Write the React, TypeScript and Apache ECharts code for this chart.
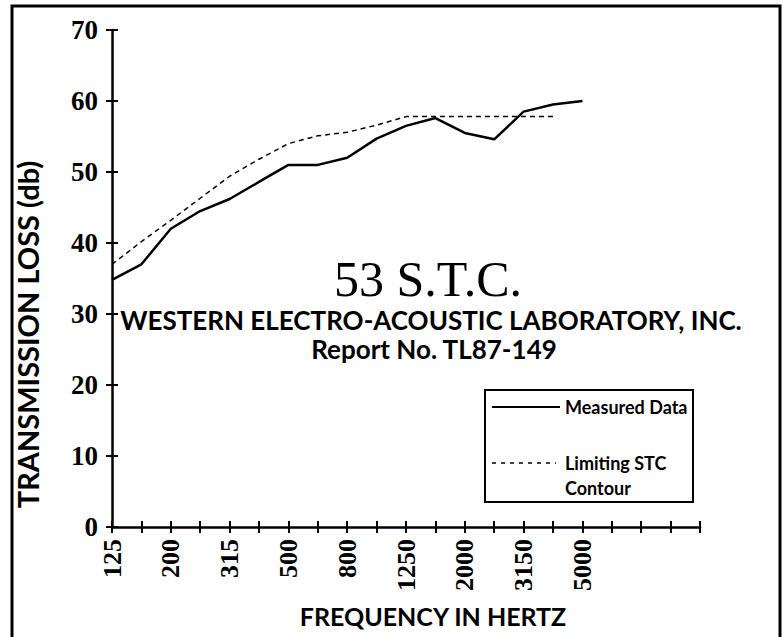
import React, { useEffect, useRef } from 'react';
import * as echarts from 'echarts';

const frequencies = ['125', '160', '200', '250', '315', '400', '500', '630', '800', '1000', '1250', '1600', '2000', '2500', '3150', '4000', '5000', '6300', '8000', '10000', '12500'];
const shownLabels = ['125', '200', '315', '500', '800', '1250', '2000', '3150', '5000'];
const measuredData = [34.8, 37.0, 42.0, 44.5, 46.2, 48.6, 51.0, 51.0, 52.0, 54.7, 56.5, 57.6, 55.5, 54.6, 58.5, 59.5, 60.0];
const stcContour = [37.0, 40.2, 43.2, 46.3, 49.4, 51.8, 54.0, 55.1, 55.6, 56.6, 57.8, 57.8, 57.8, 57.8, 57.8, 57.8];
const yTicks = { min: 0, max: 70, interval: 10 };

const sansFamily = 'Lato, "Open Sans", sans-serif';

export default function App() {
  const ref = useRef<HTMLDivElement>(null);
  useEffect(() => {
    const chart = echarts.init(ref.current!, null, { renderer: 'svg' });
    chart.setOption({
      animation: false,
      backgroundColor: '#ffffff',
      grid: { left: 112, top: 30, right: 83, bottom: 110, containLabel: false },
      xAxis: [
        {
          type: 'category',
          data: frequencies,
          boundaryGap: false,
          position: 'bottom',
          axisLine: { show: true, lineStyle: { color: '#000', width: 2.5 } },
          axisTick: { show: true, inside: false, length: 6, interval: 0, lineStyle: { color: '#000', width: 2 } },
          axisLabel: {
            interval: 0,
            rotate: 90,
            margin: 12,
            color: '#000',
            fontFamily: '"Liberation Serif", serif',
            fontWeight: 'bold',
            fontSize: 26,
            formatter: (v: string) => (shownLabels.includes(v) ? v : ''),
          },
          splitLine: { show: false },
          name: 'FREQUENCY IN HERTZ',
          nameLocation: 'middle',
          nameGap: 76,
          nameTextStyle: { color: '#000', fontFamily: sansFamily, fontWeight: 'bold', fontSize: 25, padding: [0, 0, 0, 54] },
        },
        {
          type: 'category',
          data: frequencies,
          boundaryGap: false,
          position: 'bottom',
          axisLine: { show: false },
          axisTick: { show: true, inside: true, length: 6, interval: 0, lineStyle: { color: '#000', width: 2 } },
          axisLabel: { show: false },
          splitLine: { show: false },
        },
      ],
      yAxis: [
        {
          type: 'value',
          min: yTicks.min,
          max: yTicks.max,
          interval: yTicks.interval,
          position: 'left',
          axisLine: { show: true, lineStyle: { color: '#000', width: 2.5 } },
          axisTick: { show: true, inside: false, length: 6, lineStyle: { color: '#000', width: 2 } },
          axisLabel: {
            margin: 14,
            color: '#000',
            fontFamily: '"Liberation Serif", serif',
            fontWeight: 'bold',
            fontSize: 27,
          },
          splitLine: { show: false },
          name: 'TRANSMISSION LOSS (db)',
          nameLocation: 'middle',
          nameGap: 70,
          nameTextStyle: { color: '#000', fontFamily: sansFamily, fontWeight: 'bold', fontSize: 29, padding: [0, 112, 0, 0] },
        },
        {
          type: 'value',
          min: yTicks.min,
          max: yTicks.max,
          interval: yTicks.interval,
          position: 'left',
          axisLine: { show: false },
          axisTick: { show: true, inside: true, length: 6, lineStyle: { color: '#000', width: 2 } },
          axisLabel: { show: false },
          splitLine: { show: false },
        },
      ],
      series: [
        {
          name: 'Measured Data',
          type: 'line',
          data: measuredData,
          xAxisIndex: 0,
          yAxisIndex: 0,
          symbol: 'none',
          lineStyle: { color: '#000', width: 2.5 },
          z: 3,
        },
        {
          name: 'Limiting STC Contour',
          type: 'line',
          data: stcContour,
          xAxisIndex: 0,
          yAxisIndex: 0,
          symbol: 'none',
          lineStyle: { color: '#000', width: 1.5, type: [5, 4] },
          z: 2,
        },
      ],
      graphic: [
        {
          type: 'rect',
          shape: { x: 12, y: 6, width: 768, height: 660 },
          style: { fill: 'none', stroke: '#000', lineWidth: 3 },
          silent: true,
        },
        {
          type: 'text',
          x: 428,
          y: 279,
          style: { text: '53 S.T.C.', font: 'normal 50px "Liberation Serif", serif', lineHeight: 40, fill: '#000', align: 'center', verticalAlign: 'middle' },
        },
        {
          type: 'text',
          x: 431,
          y: 320,
          style: { text: 'WESTERN ELECTRO-ACOUSTIC LABORATORY, INC.', font: 'bold 26px ' + sansFamily, lineHeight: 24, fill: '#000', align: 'center', verticalAlign: 'middle' },
        },
        {
          type: 'text',
          x: 434,
          y: 349,
          style: { text: 'Report No. TL87-149', font: 'bold 26px ' + sansFamily, lineHeight: 24, fill: '#000', align: 'center', verticalAlign: 'middle' },
        },
        {
          type: 'rect',
          shape: { x: 485, y: 390, width: 208, height: 112 },
          style: { fill: '#fff', stroke: '#000', lineWidth: 2 },
        },
        {
          type: 'line',
          shape: { x1: 492, y1: 407, x2: 560, y2: 407 },
          style: { stroke: '#000', lineWidth: 2 },
        },
        {
          type: 'line',
          shape: { x1: 492, y1: 463, x2: 556, y2: 463 },
          style: { stroke: '#000', lineWidth: 1.5, lineDash: [4, 5] },
        },
        {
          type: 'text',
          x: 565,
          y: 407,
          style: { text: 'Measured Data', font: 'bold 18px ' + sansFamily, fill: '#000', align: 'left', verticalAlign: 'middle' },
        },
        {
          type: 'text',
          x: 565,
          y: 463,
          style: { text: 'Limiting STC', font: 'bold 18px ' + sansFamily, fill: '#000', align: 'left', verticalAlign: 'middle' },
        },
        {
          type: 'text',
          x: 565,
          y: 488,
          style: { text: 'Contour', font: 'bold 18px ' + sansFamily, fill: '#000', align: 'left', verticalAlign: 'middle' },
        },
      ],
    });
    return () => chart.dispose();
  }, []);
  return <div ref={ref} style={{ position: 'fixed', left: 0, top: 0, width: 783, height: 637, background: '#fff' }} />;
}
